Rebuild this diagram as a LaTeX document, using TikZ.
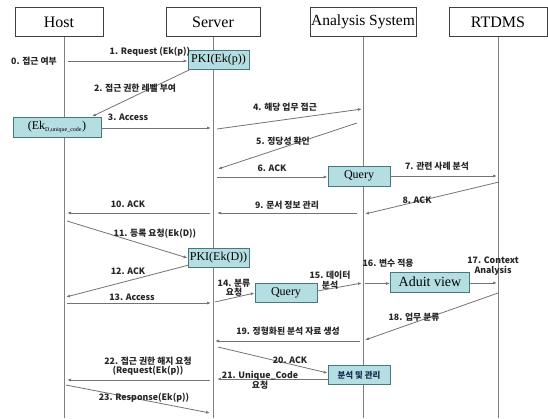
\documentclass[tikz,border=0pt]{standalone}
\usepackage{fontspec}
\setmainfont{Liberation Serif}
\newfontfamily\kr{Noto Sans CJK KR}
\usetikzlibrary{arrows.meta}
\definecolor{boxfill}{RGB}{180,222,226}
\definecolor{boxline}{RGB}{70,120,125}
\begin{document}
\begin{tikzpicture}[x=1pt,y=-1pt,
  head/.style={draw=black!75, line width=0.9pt, fill=white, minimum height=29pt,
    inner sep=0pt, font=\fontsize{16}{18}\selectfont},
  life/.style={draw=black!50, line width=0.8pt},
  msg/.style={draw=black!55, line width=0.8pt, -{Latex[length=4pt,width=3pt]}},
  lbl/.style={font=\kr\bfseries\fontsize{8.8}{9.6}\selectfont, text=black!85,
    inner sep=0.5pt, align=center},
  cbox/.style={draw=boxline, fill=boxfill, line width=0.8pt, inner sep=0pt,
    minimum height=19pt, font=\fontsize{12}{14}\selectfont},
]
\useasboundingbox (0,0) rectangle (548,418);

% lifeline heads
\node[head, minimum width=88pt] (host) at (59,22) {Host};
\node[head, minimum width=94pt] (server) at (213,22) {Server};
\node[head, minimum width=106pt, font=\fontsize{15.5}{18}\selectfont] (anal) at (363,22) {Analysis System};
\node[head, minimum width=98pt] (rtdms) at (498,22) {RTDMS};

% lifelines
\coordinate (hostTop) at (64,37);   \coordinate (hostEnd) at (64,418);
\coordinate (servTop) at (213,37);  \coordinate (servEnd) at (213,418);
\coordinate (analTop) at (363,37);  \coordinate (analEnd) at (363,418);
\coordinate (rtdTop) at (498,37);   \coordinate (rtdEnd) at (498,418);
\draw[life] (hostTop) -- (hostEnd);
\draw[life] (servTop) -- (servEnd);
\draw[life] (analTop) -- (analEnd);
\draw[life] (rtdTop) -- (rtdEnd);

% activity boxes
\node[cbox, minimum width=61pt] (pki1) at (218.5,60) {PKI(Ek(p))};
\node[cbox, minimum width=88pt, minimum height=20pt] (ek) at (57,127)
  {(Ek\textsubscript{\fontsize{6}{7}\selectfont D,unique\_code})};
\node[cbox, minimum width=62pt, minimum height=20pt] (q1) at (359,176) {Query};
\node[cbox, minimum width=61pt] (pki2) at (218.5,258) {PKI(Ek(D))};
\node[cbox, minimum width=62pt] (q2) at (286,293) {Query};
\node[cbox, minimum width=79pt, minimum height=20pt, font=\fontsize{14}{16}\selectfont] (av) at (430,282) {Aduit view};
\node[cbox, minimum width=62pt, font=\kr\bfseries\fontsize{8.5}{9}\selectfont, text={rgb,255:red,20;green,40;blue,80}] (bm) at (359,375) {분석 및 관리};

% message end points
\coordinate (a0) at (68,61);
\coordinate (a2s) at (189,70);   \coordinate (a2e) at (92,116.5);
\coordinate (a3e) at (211,128);
\coordinate (a4s) at (217,129);  \coordinate (a4e) at (362,109);
\coordinate (a5s) at (357,123);  \coordinate (a5e) at (218,169);
\coordinate (a6s) at (217,177);
\coordinate (a7e) at (497,176);
\coordinate (a8s) at (499,182);  \coordinate (a8e) at (365,214);
\coordinate (a9s) at (357,213);  \coordinate (a9e) at (217,213);
\coordinate (a10s) at (210,213); \coordinate (a10e) at (67,213);
\coordinate (a11s) at (67,221);
\coordinate (a12s) at (189,265); \coordinate (a12e) at (66,297);
\coordinate (a13s) at (67,303);  \coordinate (a13e) at (211,303);
\coordinate (a14s) at (215,302);
\coordinate (a15e) at (362,283);
\coordinate (a16s) at (365,283.5);
\coordinate (a17e) at (497,283);
\coordinate (a18s) at (498,293); \coordinate (a18e) at (365,340);
\coordinate (a19s) at (360,341); \coordinate (a19e) at (215,341);
\coordinate (a20s) at (218,347);
\coordinate (a21e) at (217,379);
\coordinate (a22s) at (210,380); \coordinate (a22e) at (67,380);
\coordinate (a23s) at (66,385);  \coordinate (a23e) at (210,413);

% messages
\draw[msg] (a0) -- (pki1.west |- a0);
\draw[msg] (a2s) -- (a2e);
\draw[msg] (ek.east |- 0,128) -- (a3e);
\draw[msg] (a4s) -- (a4e);
\draw[msg] (a5s) -- (a5e);
\draw[msg] (a6s) -- (q1.west |- a6s);
\draw[msg] (q1.east) -- (a7e);
\draw[msg] (a8s) -- (a8e);
\draw[msg] (a9s) -- (a9e);
\draw[msg] (a10s) -- (a10e);
\draw[msg] (a11s) -- (pki2.west);
\draw[msg] (a12s) -- (a12e);
\draw[msg] (a13s) -- (a13e);
\draw[msg] (a14s) -- (q2.west);
\draw[msg] (q2.east |- 0,291) -- (a15e);
\draw[msg] (a16s) -- (av.west |- a16s);
\draw[msg] (av.east |- a17e) -- (a17e);
\draw[msg] (a18s) -- (a18e);
\draw[msg] (a19s) -- (a19e);
\draw[msg] (a20s) -- (bm.west |- 0,373);
\draw[msg] (bm.west |- 0,379) -- (a21e);
\draw[msg] (a22s) -- (a22e);
\draw[msg] (a23s) -- (a23e);

% message labels
\node[lbl] (l0) at (34,61) {0. 접근 여부};
\node[lbl] (l1) at (150,52) {1. Request (Ek(p))};
\node[lbl] (l2) at (135,88) {2. 접근 권한 레벨 부여};
\node[lbl] (l3) at (128,117) {3. Access};
\node[lbl] (l4) at (285,107) {4. 해당 업무 접근};
\node[lbl] (l5) at (283,141) {5. 정당성 확인};
\node[lbl] (l6) at (272,168) {6. ACK};
\node[lbl] (l7) at (437,166) {7. 관련 사례 분석};
\node[lbl] (l8) at (417,200) {8. ACK};
\node[lbl] (l9) at (287,205) {9. 문서 정보 관리};
\node[lbl] (l10) at (128,204) {10. ACK};
\node[lbl] (l11) at (155,234) {11. 등록 요청(Ek(D))};
\node[lbl] (l12) at (128,271) {12. ACK};
\node[lbl] (l13) at (132,297) {13. Access};
\node[lbl] (l14) at (234,288) {14. 분류\\요청};
\node[lbl] (l15) at (330,280) {15. 데이터\\분석};
\node[lbl] (l16) at (388,263) {16. 변수 적용};
\node[lbl] (l17) at (493,266) {17. Context\\Analysis};
\node[lbl] (l18) at (414,317) {18. 업무 분류};
\node[lbl] (l19) at (288,331) {19. 정형화된 분석 자료 생성};
\node[lbl] (l20) at (290,360) {20. ACK};
\node[lbl] (l21) at (260,380) {21. Unique\_Code\\요청};
\node[lbl] (l22) at (148,366) {22. 접근 권한 해지 요청\\(Request(Ek(p))};
\node[lbl] (l23) at (144,398) {23. Response(Ek(p))};
\end{tikzpicture}
\end{document}
